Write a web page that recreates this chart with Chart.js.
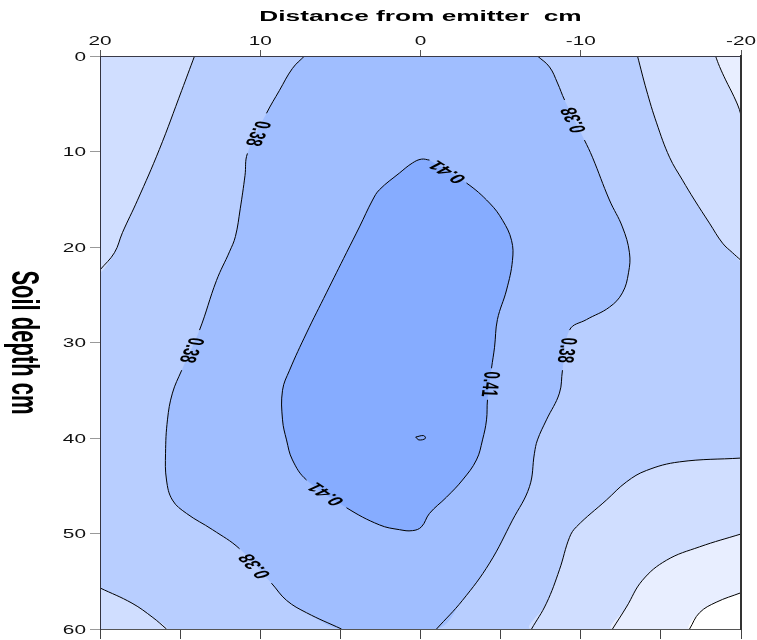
<!DOCTYPE html>
<html>
<head>
<meta charset="utf-8">
<script src="https://cdn.jsdelivr.net/npm/chart.js"></script>
<style>
  html, body { margin: 0; padding: 0; background: #ffffff; }
  canvas { display: block; }
</style>
</head>
<body>
<canvas id="chart" width="757" height="640"></canvas>
<script>
// Soil moisture contour levels (cm3/cm3)
const levels = [0.29, 0.32, 0.35, 0.38, 0.41];

// Axis ticks
const distanceTicks = [20, 10, 0, -10, -20];
const minorDistanceTicks = [20, 15, 10, 5, 0, -5, -10, -15, -20];
const depthTicks = [0, 10, 20, 30, 40, 50, 60];

// Contour traces: distance from emitter (cm) and soil depth (cm)
const upperLeft035Dist  = [14.1, 14.9, 16.3, 17.66, 18.6, 19.1, 20.0];
const upperLeft035Depth = [0, 3.6, 9.8, 15.1, 18.5, 20.6, 22.4];

const lowerLeft035Dist  = [20.0, 18.0, 16.7, 15.85];
const lowerLeft035Depth = [55.7, 57.3, 58.8, 60];

const left038Dist  = [7.24, 7.99, 8.8, 9.61, 10.8, 10.95, 11.25, 11.55, 11.92, 12.73, 13.79, 14.9,
                      15.48, 15.79, 15.91, 15.85, 15.48, 14.6, 12.98, 11.29, 9.3, 8.36, 7.11, 4.93];
const left038Depth = [0, 1.3, 3.6, 6.0, 10.2, 12.5, 16.0, 18.9, 20.5, 23.5, 28.7, 32.9,
                      35.3, 38.1, 41.6, 44.4, 46.5, 47.9, 49.6, 51.6, 55.2, 57.0, 58.3, 60];

const right038Dist  = [-7.3, -8.05, -8.55, -8.99, -10.23, -10.73, -11.79, -12.6, -13.04, -12.98, -12.6, -11.79,
                       -10.36, -9.3, -8.86, -8.67, -7.86, -7.3, -7.11, -6.8, -5.74, -4.31, -2.62, -1.0];
const right038Depth = [0, 1.15, 2.83, 4.61, 8.8, 10.6, 15.08, 17.9, 20.6, 22.7, 24.8, 26.3,
                       27.6, 28.7, 32.9, 35.3, 38.1, 40.2, 41.6, 45.1, 48.6, 53.1, 57.0, 60];

const upperRight035Dist  = [-13.54, -14.1, -14.73, -15.54, -16.35, -17.1, -18.03, -18.85, -19.47, -20];
const upperRight035Depth = [0, 3.56, 7.0, 10.6, 13.0, 15.08, 17.5, 19.6, 20.6, 21.4];

const upperRight032Dist  = [-18.41, -18.66, -19.04, -19.56, -19.9, -20];
const upperRight032Depth = [0, 1.1, 2.5, 4.25, 5.6, 6.3];

const lowerRight035Dist  = [-20, -16.16, -14.1, -12.85, -11.6, -9.73, -9.3, -8.67, -7.86, -6.93];
const lowerRight035Depth = [42.1, 42.5, 43.4, 44.6, 46.5, 49.3, 50.4, 53.8, 57.3, 60];

const lowerRight032Dist  = [-20, -17.41, -15.35, -13.85, -12.85, -11.98];
const lowerRight032Depth = [50.05, 51.4, 52.8, 54.9, 57.7, 60];

const lowerRight029Dist  = [-20, -18.45, -17.41, -16.79];
const lowerRight029Depth = [56.2, 57.2, 58.3, 60];

const core041Dist  = [-0.56, -2.87, -4.31, -5.12, -5.68, -5.74, -5.37, -4.8, -4.62, -4.43, -4.18, -4.12,
                      -3.87, -3.49, -2.62, -1.62, -0.56, -0.06, 0.5, 1.31, 2.56, 4.62, 7.11, 7.99,
                      8.36, 8.61, 8.61, 8.17, 7.11, 5.87, 4.62, 3.81, 2.99, 2.56, 1.31, 0.5, -0.06, -0.56];
const core041Depth = [10.9, 13.3, 15.4, 17.2, 19.3, 21.4, 24.5, 27.6, 30.5, 32.7, 36.0, 38.1,
                      40.2, 42.3, 44.4, 46.2, 47.9, 49.3, 49.7, 49.6, 49.1, 47.3, 44.4, 42.3,
                      40.2, 38.1, 35.0, 32.9, 29.0, 24.8, 20.6, 17.9, 15.08, 14.0, 12.25, 11.2, 10.8, 10.9];

const peakDist  = [0.3, -0.2, -0.3, 0.1, 0.3];
const peakDepth = [39.9, 39.75, 40.05, 40.2, 39.9];

// Plot extents
const DIST_LEFT = 20, DIST_RIGHT = -20, DEPTH_TOP = 0, DEPTH_BOTTOM = 60;

// Fill colours of the moisture bands
const bandColor = {
  below029: '#ffffff',
  from029: '#e8eeff',
  from032: '#d0deff',
  from035: '#b8ceff',
  from038: '#a0beff',
  from041: '#86acff'
};

const TEXT_STRETCH = 1.75;
const TICK_STRETCH = 1.6;
const TENSION = 0.4;

function pts(xs, ys) { return xs.map((x, i) => ({ x: x, y: ys[i] })); }

function band(data, color, order) {
  return {
    data: data, backgroundColor: color, borderWidth: 0, pointRadius: 0,
    fill: 'shape', tension: TENSION, order: order, xAxisID: 'x', yAxisID: 'y'
  };
}

function contour(id, xs, ys, gaps) {
  const gapSet = new Set(gaps || []);
  return {
    contourId: id, data: pts(xs, ys), borderColor: '#000000', borderWidth: 1,
    pointRadius: 0, fill: false, tension: TENSION, order: 0, xAxisID: 'x', yAxisID: 'y',
    segment: { borderColor: ctx => gapSet.has(ctx.p0DataIndex) ? 'rgba(0,0,0,0)' : undefined }
  };
}

// Labels written into the breaks of the contour lines
const contourLabels = [
  { id: 'left038', seg: 3, level: 0.38, flip: false },
  { id: 'left038', seg: 10, level: 0.38, flip: false },
  { id: 'left038', seg: 19, level: 0.38, flip: true },
  { id: 'right038', seg: 3, level: 0.38, flip: true },
  { id: 'right038', seg: 13, level: 0.38, flip: false },
  { id: 'core041', seg: 0, level: 0.41, flip: true },
  { id: 'core041', seg: 9, level: 0.41, flip: false },
  { id: 'core041', seg: 21, level: 0.41, flip: false }
];

function gapsFor(id) { return contourLabels.filter(l => l.id === id).map(l => l.seg); }

const datasets = [
  band(pts(core041Dist, core041Depth), bandColor.from041, 1),
  band(pts(lowerRight029Dist, lowerRight029Depth).concat([{ x: DIST_RIGHT, y: DEPTH_BOTTOM }]), bandColor.below029, 2),
  band(pts(lowerRight032Dist, lowerRight032Depth).concat([{ x: DIST_RIGHT, y: DEPTH_BOTTOM }]), bandColor.from029, 3),
  band(pts(upperRight032Dist, upperRight032Depth).concat([{ x: DIST_RIGHT, y: DEPTH_TOP }]), bandColor.from029, 3),
  band(pts(lowerRight035Dist, lowerRight035Depth).concat([{ x: DIST_RIGHT, y: DEPTH_BOTTOM }]), bandColor.from032, 4),
  band(pts(upperRight035Dist, upperRight035Depth).concat([{ x: DIST_RIGHT, y: DEPTH_TOP }]), bandColor.from032, 4),
  band(pts(upperLeft035Dist, upperLeft035Depth).concat([{ x: DIST_LEFT, y: DEPTH_TOP }]), bandColor.from032, 4),
  band(pts(lowerLeft035Dist, lowerLeft035Depth).concat([{ x: DIST_LEFT, y: DEPTH_BOTTOM }]), bandColor.from032, 4),
  band(pts(left038Dist, left038Depth).concat(pts(right038Dist, right038Depth).reverse()), bandColor.from038, 5),

  contour('upperLeft035', upperLeft035Dist, upperLeft035Depth),
  contour('lowerLeft035', lowerLeft035Dist, lowerLeft035Depth),
  contour('left038', left038Dist, left038Depth, gapsFor('left038')),
  contour('right038', right038Dist, right038Depth, gapsFor('right038')),
  contour('upperRight035', upperRight035Dist, upperRight035Depth),
  contour('upperRight032', upperRight032Dist, upperRight032Depth),
  contour('lowerRight035', lowerRight035Dist, lowerRight035Depth),
  contour('lowerRight032', lowerRight032Dist, lowerRight032Depth),
  contour('lowerRight029', lowerRight029Dist, lowerRight029Depth),
  contour('core041', core041Dist, core041Depth, gapsFor('core041')),
  contour('peak', peakDist, peakDepth)
];

function stretchedText(ctx, text, x, y, opt) {
  ctx.save();
  ctx.translate(x, y);
  ctx.scale(opt.sx, 1);
  ctx.rotate(opt.angle || 0);
  ctx.font = opt.font;
  ctx.textAlign = opt.align || 'center';
  ctx.textBaseline = opt.baseline || 'alphabetic';
  ctx.fillStyle = opt.color || '#000000';
  ctx.fillText(text, 0, 0);
  ctx.restore();
}

const FONT = '"Liberation Sans", Arial, Helvetica, sans-serif';

const plotBackground = {
  id: 'plotBackground',
  beforeDraw(chart) {
    const { ctx, chartArea: a } = chart;
    ctx.save();
    ctx.fillStyle = '#ffffff';
    ctx.fillRect(0, 0, chart.width, chart.height);
    ctx.fillStyle = bandColor.from035;
    ctx.fillRect(a.left, a.top, a.right - a.left, a.bottom - a.top);
    ctx.restore();
  }
};

const axisText = {
  id: 'axisText',
  afterDraw(chart) {
    const { ctx, chartArea: a, scales } = chart;
    const xs = scales.x, ys = scales.y;

    stretchedText(ctx, 'Distance from emitter  cm', (a.left + a.right) / 2, a.top - 35,
      { sx: TEXT_STRETCH, font: 'bold 15px ' + FONT });

    distanceTicks.forEach(v => {
      stretchedText(ctx, String(v), xs.getPixelForValue(v), a.top - 11,
        { sx: TICK_STRETCH, font: '13px ' + FONT, color: '#111111' });
    });
    depthTicks.forEach(v => {
      stretchedText(ctx, String(v), a.left - 14, ys.getPixelForValue(v) + 4.7,
        { sx: TICK_STRETCH, font: '13px ' + FONT, align: 'right', color: '#111111' });
    });

    stretchedText(ctx, 'Soil depth cm', a.left - 88, (a.top + a.bottom) / 2,
      { sx: TEXT_STRETCH, font: 'bold 22px ' + FONT, angle: Math.PI / 2 });

    contourLabels.forEach(lab => {
      const idx = chart.data.datasets.findIndex(d => d.contourId === lab.id);
      const pts = chart.getDatasetMeta(idx).data;
      const p0 = pts[lab.seg], p1 = pts[lab.seg + 1];
      let ang = Math.atan2(p1.y - p0.y, (p1.x - p0.x) / TEXT_STRETCH);
      if (lab.flip) ang += Math.PI;
      stretchedText(ctx, lab.level.toFixed(2), (p0.x + p1.x) / 2, (p0.y + p1.y) / 2,
        { sx: TEXT_STRETCH, font: 'bold 13px ' + FONT, angle: ang, baseline: 'middle' });
    });
  }
};

new Chart(document.getElementById('chart'), {
  type: 'line',
  data: { datasets: datasets },
  plugins: [plotBackground, axisText],
  options: {
    responsive: false,
    animation: false,
    events: [],
    layout: { padding: { left: 0, right: 0, top: 0, bottom: 1 } },
    plugins: {
      legend: { display: false },
      tooltip: { enabled: false },
      filler: { drawTime: 'beforeDatasetsDraw', propagate: false }
    },
    scales: {
      x: {
        type: 'linear', position: 'top', min: DIST_RIGHT, max: DIST_LEFT, reverse: true,
        afterBuildTicks: s => { s.ticks = distanceTicks.map(v => ({ value: v })); },
        afterFit: s => { s.height = 56; },
        ticks: { display: false },
        grid: { drawOnChartArea: false, tickLength: 6, tickColor: '#555555', z: 1 },
        border: { color: '#3a3a48', width: 1, z: 1 }
      },
      xMinor: {
        type: 'linear', position: 'bottom', min: DIST_RIGHT, max: DIST_LEFT, reverse: true,
        afterBuildTicks: s => { s.ticks = minorDistanceTicks.map(v => ({ value: v })); },
        afterFit: s => { s.height = 10; },
        ticks: { display: false },
        grid: { drawOnChartArea: false, tickLength: 10, tickColor: '#444444', z: 1 },
        border: { color: '#555555', width: 1, z: 1 }
      },
      y: {
        type: 'linear', position: 'left', min: DEPTH_TOP, max: DEPTH_BOTTOM, reverse: true,
        afterBuildTicks: s => { s.ticks = depthTicks.map(v => ({ value: v })); },
        afterFit: s => { s.width = 100; },
        ticks: { display: false },
        grid: { drawOnChartArea: false, tickLength: 10, tickColor: '#999999', z: 1 },
        border: { color: '#333340', width: 1, z: 1 }
      },
      yRight: {
        type: 'linear', position: 'right', min: DEPTH_TOP, max: DEPTH_BOTTOM, reverse: true,
        afterFit: s => { s.width = 16; },
        ticks: { display: false },
        grid: { display: false },
        border: { color: '#333333', width: 2, z: 1 }
      }
    }
  }
});
</script>
</body>
</html>
